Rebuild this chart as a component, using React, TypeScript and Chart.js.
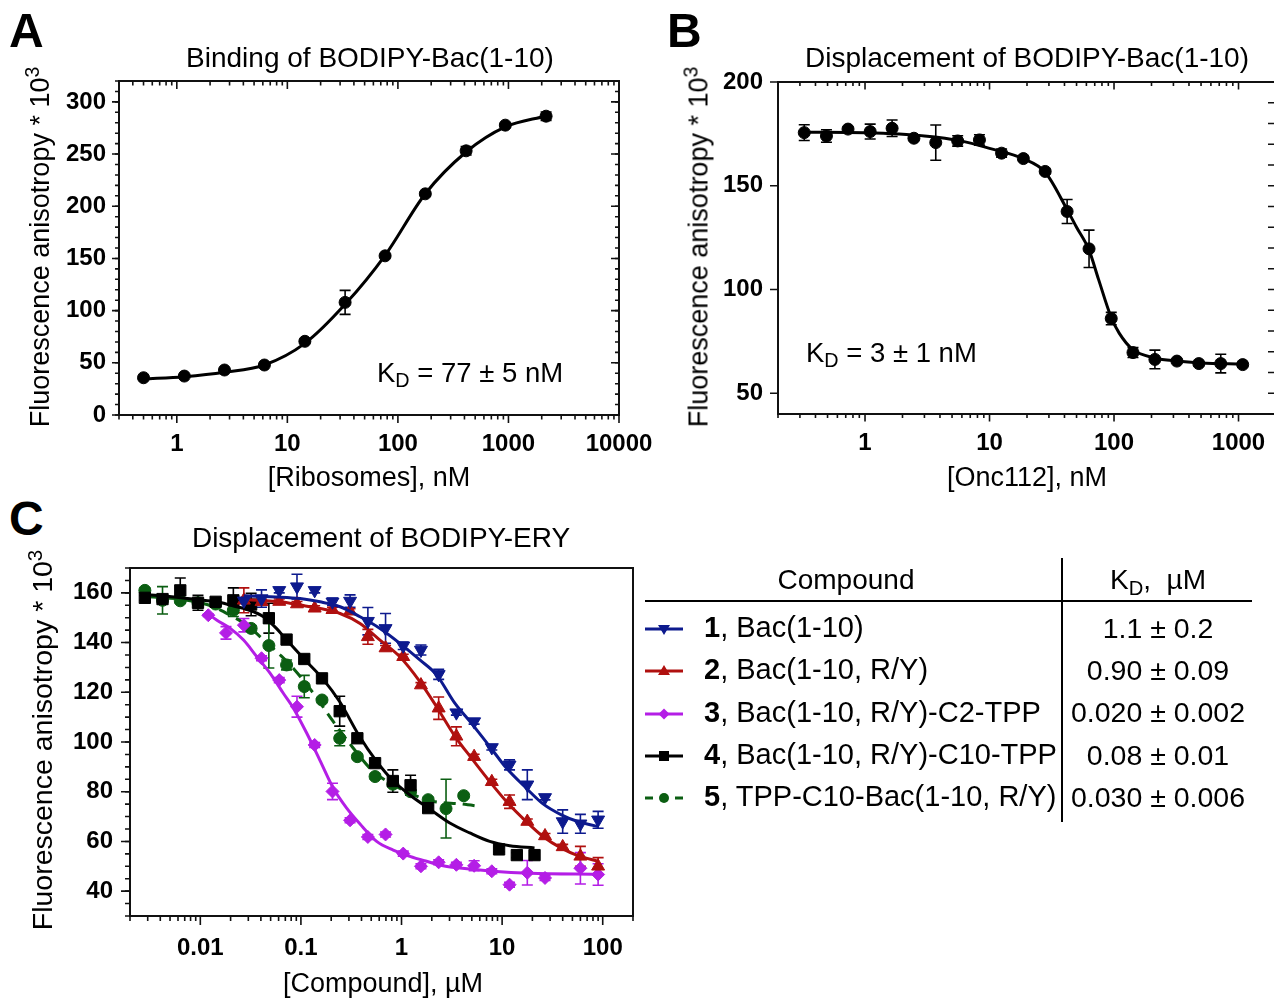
import React, { useEffect, useRef } from 'react';
import { Chart, registerables } from 'chart.js';

Chart.register(...registerables);

const FONT = '"Liberation Sans", Arial, Helvetica, sans-serif';

// ---------------- Panel A: binding of BODIPY-Bac(1-10) ----------------
const aRibosomes = [0.5, 1.17, 2.7, 6.2, 14.4, 33.3, 76.6, 177, 414, 937, 2190];
const aAnisotropy = [35.7, 37.3, 43.1, 47.9, 70.6, 107.9, 152.5, 211.9, 253.1, 277.7, 286.3];
const aError = [1.2, 1.2, 1.5, 1.5, 1.5, 11.5, 1.5, 2, 4, 2, 4];
const aFitX = [0.5, 1.17, 2.7, 6.2, 14.4, 33.3, 76.6, 177, 414, 937, 2190];
const aFitY = [34.5, 36.7, 40.9, 47.9, 68.6, 106, 153, 212, 252, 276, 286.5];
const aXTickLabels = [1, 10, 100, 1000, 10000];
const aYTickLabels = [0, 50, 100, 150, 200, 250, 300];

// ---------------- Panel B: displacement by Onc112 ----------------
const bOnc112 = [0.325, 0.49, 0.73, 1.1, 1.65, 2.47, 3.7, 5.55, 8.3, 12.5, 18.7, 28, 42, 63, 95, 142, 213, 320, 480, 720, 1080];
const bAnisotropy = [175.6, 174, 177.3, 176.1, 177.7, 172.9, 170.8, 171.6, 172.1, 165.7, 163.1, 156.9, 137.6, 119.6, 86, 69.6, 66.3, 65.5, 64.3, 64.3, 63.8];
const bError = [3.8, 3, 1, 3.6, 4, 1, 8.5, 2.5, 2.5, 2, 1, 1, 5.8, 9, 3, 2.4, 4.5, 1, 1, 4.5, 1];
const bFitX = [0.325, 1, 3, 6, 10, 18.7, 28, 42, 50, 63, 75, 95, 110, 142, 213, 320, 500, 1080];
const bFitY = [175.8, 175.5, 174, 171.5, 168, 163, 156.5, 138.5, 130, 119, 105, 86.5, 79, 71, 67, 65.5, 64.6, 64];
const bXTickLabels = [1, 10, 100, 1000];
const bYTickLabels = [50, 100, 150, 200];

// ---------------- Panel C: displacement of BODIPY-ERY ----------------
const c1Conc = [0.0271, 0.0406, 0.0609, 0.0914, 0.137, 0.206, 0.308, 0.463, 0.694, 1.04, 1.56, 2.34, 3.51, 5.27, 7.9, 11.85, 17.8, 26.7, 40, 60, 90];
const c1Aniso = [156.8, 157.7, 161, 162.5, 161, 156.4, 156.7, 148.6, 145.7, 138.7, 137, 127.2, 111.8, 108.2, 97.8, 90.8, 82.8, 77.7, 68, 67.1, 68.7];
const c1Err = [1, 3.5, 1, 5, 1, 1.5, 2.5, 5.5, 6, 1.5, 2, 2, 1, 1, 1, 2, 6, 1, 4.7, 3.8, 3.4];
const c1FitX = [0.0271, 0.0622, 0.0982, 0.155, 0.245, 0.387, 0.611, 0.964, 1.522, 2.23, 3.387, 4.96, 7.53, 11.03, 17.4, 25.5, 38.8, 56.6, 90];
const c1FitY = [158.8, 158.3, 157.7, 156.4, 154.4, 150.4, 145.7, 139.7, 133, 127, 115.6, 107.5, 98.2, 89.5, 81.4, 75.1, 70.7, 68, 66];

const c2Conc = [0.0271, 0.0406, 0.0609, 0.0914, 0.137, 0.206, 0.308, 0.463, 0.694, 1.04, 1.56, 2.34, 3.51, 5.27, 7.9, 11.85, 17.8, 26.7, 40, 60, 90];
const c2Aniso = [157, 156.4, 156.5, 155.5, 153.8, 153.2, 152.6, 142.3, 137.8, 134.3, 122.9, 113.6, 102.3, 94.1, 84, 76, 68, 62.2, 57.8, 54, 50];
const c2Err = [5, 1, 1, 1, 1, 1, 1, 3, 1, 1, 1, 4.5, 3.8, 1, 1, 2.7, 1, 1, 1, 4, 3.5];
const c2FitX = [0.0271, 0.0622, 0.0982, 0.155, 0.245, 0.387, 0.611, 0.964, 1.522, 2.23, 3.387, 4.96, 7.53, 11.03, 17.4, 25.5, 38.8, 56.6, 90];
const c2FitY = [157.3, 156.4, 155.1, 153.7, 151.7, 147.7, 141, 134.3, 124.3, 114.2, 102.4, 93.5, 84.1, 76.1, 68, 62, 57.3, 54.3, 52];

const c3Conc = [0.012, 0.018, 0.0271, 0.0406, 0.0609, 0.0914, 0.137, 0.206, 0.308, 0.463, 0.694, 1.04, 1.56, 2.34, 3.51, 5.27, 7.9, 11.85, 17.8, 26.7, 60, 90];
const c3Aniso = [151, 143.9, 147, 133.7, 124.9, 114.2, 98.8, 80.1, 68.5, 61.8, 62.8, 55.1, 50, 51.6, 50.6, 50.2, 48, 42.6, 47.4, 45.3, 49.2, 46.7];
const c3Err = [0.5, 2.5, 2.7, 1, 1, 4.2, 1, 3.3, 1, 1, 1, 1, 1, 1, 1, 2, 1, 1, 4.9, 1, 6.3, 4.3];
const c3FitX = [0.012, 0.01464, 0.01984, 0.0269, 0.0365, 0.0495, 0.0671, 0.0842, 0.1144, 0.155, 0.21, 0.285, 0.387, 0.566, 0.827, 1.211, 1.774, 2.593, 3.797, 8.12, 18.8, 90];
const c3FitY = [151.5, 149, 145.7, 141, 134.3, 127.6, 119.5, 113.6, 103.5, 92.5, 81.4, 73.4, 67, 60, 56.5, 54, 52, 50.2, 49.3, 48, 47.2, 46.8];

const c4Conc = [0.00281, 0.00421, 0.00632, 0.00948, 0.0142, 0.0213, 0.032, 0.048, 0.072, 0.108, 0.162, 0.243, 0.364, 0.546, 0.82, 1.23, 1.84, 9.33, 14, 21];
const c4Aniso = [158, 157.5, 161, 156, 156.4, 157, 155.3, 149.8, 141.2, 133.4, 125.6, 112.4, 101.5, 91.5, 84.3, 82.6, 73.4, 56.8, 54.5, 54.5];
const c4Err = [1, 1, 5, 3, 1, 5, 4.5, 6, 1, 1, 1, 6, 1, 1, 4.5, 4, 1, 1, 1, 1];
const c4FitX = [0.00281, 0.0043, 0.0093, 0.0146, 0.0214, 0.0291, 0.0425, 0.0577, 0.0698, 0.1075, 0.1635, 0.245, 0.379, 0.558, 0.82, 1.23, 1.91, 3.02, 4.77, 7.53, 11.9, 21];
const c4FitY = [159.3, 158.7, 157.3, 156.4, 154.7, 153.3, 150.4, 145.5, 141.7, 133.4, 125.6, 116, 102.5, 92.5, 84.5, 78.5, 73, 67.4, 63.4, 60, 58.3, 57.4];

const c5Conc = [0.00281, 0.00421, 0.00632, 0.00948, 0.0142, 0.0213, 0.032, 0.048, 0.072, 0.108, 0.162, 0.243, 0.364, 0.546, 0.82, 1.23, 1.84, 2.77, 4.15];
const c5Aniso = [161, 157, 156.8, 156, 155.5, 153, 145.7, 138.8, 131, 122.3, 116.9, 101.5, 94.1, 86.1, 83, 80, 76.8, 73.2, 78.4];
const c5Err = [1, 5.5, 1, 1, 1, 2.5, 1, 9, 2, 4.5, 1, 3, 1, 1, 1, 1, 1, 11.8, 1];
const c5FitX = [0.00281, 0.00633, 0.01, 0.01355, 0.01984, 0.0291, 0.0394, 0.0622, 0.0842, 0.133, 0.21, 0.332, 0.524, 0.827, 1.306, 2.063, 3.947, 6.22];
const c5FitY = [158.5, 157.5, 156, 154.4, 151, 147, 142.3, 135, 129.6, 119.6, 108.2, 97.5, 88.1, 82.8, 78.8, 76.1, 75.1, 74];

const cXTickLabels = [0.01, 0.1, 1, 10, 100];
const cYTickLabels = [40, 60, 80, 100, 120, 140, 160];

// table
const compoundNumbers = ['1', '2', '3', '4', '5'];
const compoundNames = [', Bac(1-10)', ', Bac(1-10, R/Y)', ', Bac(1-10, R/Y)-C2-TPP', ', Bac(1-10, R/Y)-C10-TPP', ', TPP-C10-Bac(1-10, R/Y)'];
const compoundKd = ['1.1 \u00b1 0.2', '0.90 \u00b1 0.09', '0.020 \u00b1 0.002', '0.08 \u00b1 0.01', '0.030 \u00b1 0.006'];

const BLUE = '#0d1a8e';
const RED = '#b0100f';
const MAGENTA = '#b41ee6';
const BLACK = '#000000';
const GREEN = '#0b5e12';
const AXIS = '#111111';

// ---------------- helpers ----------------
const pts = (xs: number[], ys: number[]) => xs.map((x, i) => ({ x, y: ys[i] }));

function logTicks(min: number, max: number, majors: boolean): number[] {
  const out: number[] = [];
  for (let e = Math.floor(Math.log10(min)) - 1; e <= Math.ceil(Math.log10(max)); e++) {
    for (let m = 1; m <= 9; m++) {
      if (majors !== (m === 1)) continue;
      const v = m * Math.pow(10, e);
      if (v >= min * 0.9999 && v <= max * 1.0001) out.push(v);
    }
  }
  return out;
}
function linTicks(min: number, max: number, step: number): number[] {
  const out: number[] = [];
  for (let v = min; v <= max + 1e-9; v += step) out.push(Math.round(v * 1e6) / 1e6);
  return out;
}

const errorBarPlugin = {
  id: 'errbars',
  beforeDatasetsDraw(chart: any) {
    const { ctx, chartArea: a } = chart;
    const xs = chart.scales.x;
    const ys = chart.scales.y;
    ctx.save();
    ctx.beginPath();
    ctx.rect(a.left, a.top, a.right - a.left, a.bottom - a.top);
    ctx.clip();
    chart.data.datasets.forEach((ds: any) => {
      if (!ds.errors) return;
      ctx.strokeStyle = ds.borderColor;
      ctx.lineWidth = ds.errWidth || 1.6;
      const cap = ds.capHalf || 5;
      ds.data.forEach((p: any, j: number) => {
        const e = ds.errors[j];
        if (!e) return;
        const px = xs.getPixelForValue(p.x);
        const y1 = ys.getPixelForValue(p.y + e);
        const y2 = ys.getPixelForValue(p.y - e);
        ctx.beginPath();
        ctx.moveTo(px, y1);
        ctx.lineTo(px, y2);
        ctx.moveTo(px - cap, y1);
        ctx.lineTo(px + cap, y1);
        ctx.moveTo(px - cap, y2);
        ctx.lineTo(px + cap, y2);
        ctx.stroke();
      });
    });
    ctx.restore();
  },
};

const framePlugin = {
  id: 'frame',
  afterDatasetsDraw(chart: any, _args: any, opts: any) {
    const { ctx, chartArea: a } = chart;
    const xs = chart.scales.x;
    const ys = chart.scales.y;
    const w = opts.width || 2;
    ctx.save();
    ctx.strokeStyle = AXIS;
    ctx.lineCap = 'butt';
    (opts.sides || []).forEach((s: any) => {
      ctx.lineWidth = w;
      ctx.beginPath();
      if (s.side === 'left') { ctx.moveTo(a.left, a.top - w / 2); ctx.lineTo(a.left, a.bottom + w / 2); }
      if (s.side === 'right') { ctx.moveTo(a.right, a.top - w / 2); ctx.lineTo(a.right, a.bottom + w / 2); }
      if (s.side === 'top') { ctx.moveTo(a.left - w / 2, a.top); ctx.lineTo(a.right + w / 2, a.top); }
      if (s.side === 'bottom') { ctx.moveTo(a.left - w / 2, a.bottom); ctx.lineTo(a.right + w / 2, a.bottom); }
      ctx.stroke();
      ctx.lineWidth = opts.tickWidth || 1.6;
      (s.ticks || []).forEach((t: any) => {
        ctx.beginPath();
        t.values.forEach((v: number) => {
          if (s.side === 'left' || s.side === 'right') {
            const y = ys.getPixelForValue(v);
            const x0 = s.side === 'left' ? a.left : a.right;
            const dir = (s.side === 'left' ? -1 : 1) * (t.inward ? -1 : 1);
            ctx.moveTo(x0, y);
            ctx.lineTo(x0 + dir * t.len, y);
          } else {
            const x = xs.getPixelForValue(v);
            const y0 = s.side === 'top' ? a.top : a.bottom;
            const dir = (s.side === 'top' ? -1 : 1) * (t.inward ? -1 : 1);
            ctx.moveTo(x, y0);
            ctx.lineTo(x, y0 + dir * t.len);
          }
        });
        ctx.stroke();
      });
    });
    ctx.restore();
  },
};

const tickFont = { family: FONT, size: 24, weight: 'bold' as const };

function buildConfig(p: any) {
  return {
    type: 'scatter',
    data: { datasets: p.datasets },
    options: {
      responsive: false,
      maintainAspectRatio: false,
      animation: false,
      events: [],
      layout: { padding: { left: 0, top: p.padTop, right: p.padRight, bottom: 0 } },
      plugins: { legend: { display: false }, tooltip: { enabled: false }, frame: p.frame },
      scales: {
        x: {
          type: 'logarithmic',
          position: 'bottom',
          min: p.xMin,
          max: p.xMax,
          grid: { display: false, drawTicks: false },
          border: { display: false },
          afterBuildTicks: (s: any) => { s.ticks = p.xLabels.map((v: number) => ({ value: v })); },
          afterFit: (s: any) => { s.height = p.xAxisHeight; },
          ticks: {
            autoSkip: false, maxRotation: 0, minRotation: 0, padding: p.xLabelPad, color: '#000', font: tickFont,
            callback: (v: any) => String(v),
          },
        },
        y: {
          type: 'linear',
          position: 'left',
          min: p.yMin,
          max: p.yMax,
          grid: { display: false, drawTicks: false },
          border: { display: false },
          afterBuildTicks: (s: any) => { s.ticks = p.yLabels.map((v: number) => ({ value: v })); },
          afterFit: (s: any) => { s.width = p.yAxisWidth; },
          ticks: {
            autoSkip: false, padding: p.yLabelPad, color: '#000', font: tickFont,
            callback: (v: any) => String(v),
          },
        },
      },
    },
    plugins: [errorBarPlugin, framePlugin],
  };
}

function curve(xs: number[], ys: number[], color: string, order: number, dash: number[] = []) {
  return {
    data: pts(xs, ys), showLine: true, borderColor: color, backgroundColor: color, borderWidth: 3,
    borderDash: dash, pointRadius: 0, cubicInterpolationMode: 'monotone', fill: false, order,
  };
}
function markers(xs: number[], ys: number[], errs: number[], color: string, style: string, radius: number, order: number, rotation = 0) {
  return {
    data: pts(xs, ys), showLine: false, borderColor: color, backgroundColor: color,
    pointStyle: style, pointRadius: radius, pointRotation: rotation, pointBorderWidth: 1,
    pointBackgroundColor: color, pointBorderColor: color, errors: errs, capHalf: 5.5, order,
  };
}

// ---------------- configs ----------------
const configA = () => buildConfig({
  xMin: 0.3, xMax: 10000, yMin: 0, yMax: 320,
  xLabels: aXTickLabels, yLabels: aYTickLabels,
  yAxisWidth: 79, xAxisHeight: 65, padTop: 33, padRight: 61, xLabelPad: 15, yLabelPad: 13,
  frame: {
    width: 2,
    sides: [
      { side: 'bottom', ticks: [{ values: logTicks(0.3, 10000, true), len: 8 }, { values: logTicks(0.3, 10000, false), len: 4.5 }] },
      { side: 'top', ticks: [{ values: logTicks(0.3, 10000, true), len: 8, inward: true }, { values: logTicks(0.3, 10000, false), len: 4.5, inward: true }] },
      { side: 'left', ticks: [{ values: linTicks(0, 300, 50), len: 7 }, { values: linTicks(0, 320, 10), len: 4 }] },
      { side: 'right', ticks: [{ values: linTicks(0, 300, 50), len: 8, inward: true }, { values: linTicks(0, 320, 10), len: 4, inward: true }] },
    ],
  },
  datasets: [
    markers(aRibosomes, aAnisotropy, aError, BLACK, 'circle', 6, 0),
    curve(aFitX, aFitY, BLACK, 1),
  ],
});

const configB = () => buildConfig({
  xMin: 0.2, xMax: 2000, yMin: 40, yMax: 200,
  xLabels: bXTickLabels, yLabels: bYTickLabels,
  yAxisWidth: 78, xAxisHeight: 66, padTop: 33, padRight: 14, xLabelPad: 15, yLabelPad: 15,
  frame: {
    width: 2,
    sides: [
      { side: 'bottom', ticks: [{ values: logTicks(0.2, 2000, true), len: 7.5 }, { values: logTicks(0.2, 2000, false), len: 4 }] },
      { side: 'top', ticks: [{ values: logTicks(0.2, 2000, true), len: 7.5, inward: true }, { values: logTicks(0.2, 2000, false), len: 4, inward: true }] },
      { side: 'left', ticks: [{ values: linTicks(50, 200, 50), len: 8 }] },
      { side: 'right', ticks: [{ values: linTicks(40, 200, 10), len: 8, inward: true }] },
    ],
  },
  datasets: [
    markers(bOnc112, bAnisotropy, bError, BLACK, 'circle', 6, 0),
    curve(bFitX, bFitY, BLACK, 1),
  ],
});

const configC = () => buildConfig({
  xMin: 0.002, xMax: 200, yMin: 30, yMax: 170,
  xLabels: cXTickLabels, yLabels: cYTickLabels,
  yAxisWidth: 80, xAxisHeight: 54, padTop: 34, padRight: 17, xLabelPad: 18, yLabelPad: 17,
  frame: {
    width: 2,
    sides: [
      { side: 'bottom', ticks: [{ values: logTicks(0.002, 200, true), len: 9 }, { values: logTicks(0.002, 200, false), len: 5 }] },
      { side: 'top' },
      { side: 'left', ticks: [{ values: linTicks(40, 160, 20), len: 9 }, { values: linTicks(30, 170, 5), len: 5 }] },
      { side: 'right' },
    ],
  },
  datasets: [
    markers(c1Conc, c1Aniso, c1Err, BLUE, 'triangle', 7.5, 0, 180),
    curve(c1FitX, c1FitY, BLUE, 1),
    markers(c2Conc, c2Aniso, c2Err, RED, 'triangle', 7.5, 2),
    curve(c2FitX, c2FitY, RED, 3),
    markers(c3Conc, c3Aniso, c3Err, MAGENTA, 'rectRot', 6.5, 4),
    curve(c3FitX, c3FitY, MAGENTA, 5),
    markers(c4Conc, c4Aniso, c4Err, BLACK, 'rect', 8, 6),
    curve(c4FitX, c4FitY, BLACK, 7),
    markers(c5Conc, c5Aniso, c5Err, GREEN, 'circle', 6, 8),
    curve(c5FitX, c5FitY, GREEN, 9, [12, 7]),
  ],
});

// ---------------- components ----------------
function ChartCanvas({ make, left, top, width, height }: any) {
  const ref = useRef<HTMLCanvasElement>(null);
  useEffect(() => {
    const chart = new Chart(ref.current as HTMLCanvasElement, make() as any);
    return () => chart.destroy();
  }, []);
  return <canvas ref={ref} width={width} height={height} style={{ position: 'absolute', left, top, width, height }} />;
}

function Txt({ x, y, size, bold, align = 'left', children }: any) {
  const common: any = {
    position: 'absolute', top: y - 0.8465 * size, fontSize: size, lineHeight: `${size}px`,
    fontWeight: bold ? 700 : 400, whiteSpace: 'nowrap', fontFamily: FONT, color: '#000',
  };
  if (align === 'center') return <div style={{ ...common, left: x - 400, width: 800, textAlign: 'center' }}>{children}</div>;
  return <div style={{ ...common, left: x }}>{children}</div>;
}

function VTitle({ cx, cy, size, children }: any) {
  return (
    <div style={{
      position: 'absolute', left: cx, top: cy, transform: 'translate(-50%, -50%) rotate(-90deg)',
      fontSize: size, lineHeight: `${size}px`, whiteSpace: 'nowrap', fontFamily: FONT, color: '#000',
    }}>{children}</div>
  );
}

const Sup = ({ children }: any) => <span style={{ fontSize: '0.72em', position: 'relative', top: '-0.5em', lineHeight: 0 }}>{children}</span>;
const Sub = ({ children }: any) => <span style={{ fontSize: '0.72em', position: 'relative', top: '0.28em', lineHeight: 0 }}>{children}</span>;

const yTitle = <>Fluorescence anisotropy * 10<Sup>3</Sup></>;

function LegendSym({ cy, color, shape, dashed }: any) {
  const cx = 21;
  const c = 8;
  let mark: any = null;
  if (shape === 'down') mark = <polygon points={`${cx - 6},${c - 4} ${cx + 6},${c - 4} ${cx},${c + 6}`} fill={color} />;
  if (shape === 'up') mark = <polygon points={`${cx - 6},${c + 4} ${cx + 6},${c + 4} ${cx},${c - 6}`} fill={color} />;
  if (shape === 'diamond') mark = <polygon points={`${cx},${c - 5.5} ${cx + 5.5},${c} ${cx},${c + 5.5} ${cx - 5.5},${c}`} fill={color} />;
  if (shape === 'square') mark = <rect x={cx - 5} y={c - 5} width={10} height={10} fill={color} />;
  if (shape === 'circle') mark = <circle cx={cx} cy={c} r={5} fill={color} />;
  return (
    <svg style={{ position: 'absolute', left: 643, top: cy - 8 }} width={44} height={16}>
      <line x1={2} y1={c} x2={40} y2={c} stroke={color} strokeWidth={3} strokeDasharray={dashed ? '8 7' : undefined} />
      {mark}
    </svg>
  );
}

const legendColors = [BLUE, RED, MAGENTA, BLACK, GREEN];
const legendShapes = ['down', 'up', 'diamond', 'square', 'circle'];
const rowBaselines = [638, 680, 722.5, 765, 807];

export default function App() {
  return (
    <div style={{ position: 'fixed', left: 0, top: 0, width: 1274, height: 1000, overflow: 'hidden', background: '#fff', fontFamily: FONT }}>
      <ChartCanvas make={configA} left={40} top={48} width={640} height={432} />
      <ChartCanvas make={configB} left={700} top={49} width={590} height={431} />
      <ChartCanvas make={configC} left={50} top={534} width={600} height={436} />

      {/* panel letters */}
      <Txt x={9} y={48} size={48} bold>A</Txt>
      <Txt x={667} y={48} size={48} bold>B</Txt>
      <Txt x={9} y={536} size={48} bold>C</Txt>

      {/* titles */}
      <Txt x={370} y={68} size={28} align="center">Binding of BODIPY-Bac(1-10)</Txt>
      <Txt x={1027} y={68} size={28} align="center">Displacement of BODIPY-Bac(1-10)</Txt>
      <Txt x={381} y={548} size={28} align="center">Displacement of BODIPY-ERY</Txt>

      {/* axis titles */}
      <VTitle cx={40} cy={247} size={27}>{yTitle}</VTitle>
      <VTitle cx={699} cy={247} size={27}>{yTitle}</VTitle>
      <VTitle cx={42} cy={740} size={28.5}>{yTitle}</VTitle>
      <Txt x={369} y={487} size={27} align="center">[Ribosomes], nM</Txt>
      <Txt x={1027} y={487} size={27} align="center">[Onc112], nM</Txt>
      <Txt x={383} y={993} size={27} align="center">[Compound], {'\u00b5'}M</Txt>

      {/* KD annotations */}
      <Txt x={377} y={382} size={27.5}>K<Sub>D</Sub> = 77 {'\u00b1'} 5 nM</Txt>
      <Txt x={806} y={362} size={27.5}>K<Sub>D</Sub> = 3 {'\u00b1'} 1 nM</Txt>

      {/* table */}
      <Txt x={846} y={590} size={28} align="center">Compound</Txt>
      <Txt x={1158} y={590} size={28} align="center">K<Sub>D</Sub>,{'\u00a0\u00a0'}{'\u00b5'}M</Txt>
      <div style={{ position: 'absolute', left: 645, top: 600, width: 607, height: 2, background: '#000' }} />
      <div style={{ position: 'absolute', left: 1061, top: 558, width: 2, height: 264, background: '#000' }} />
      {compoundNumbers.map((n, i) => (
        <React.Fragment key={n}>
          <LegendSym cy={rowBaselines[i] - 9} color={legendColors[i]} shape={legendShapes[i]} dashed={i === 4} />
          <Txt x={704} y={rowBaselines[i]} size={29}><b>{n}</b>{compoundNames[i]}</Txt>
          <Txt x={1158} y={rowBaselines[i]} size={28.5} align="center">{compoundKd[i]}</Txt>
        </React.Fragment>
      ))}
    </div>
  );
}
